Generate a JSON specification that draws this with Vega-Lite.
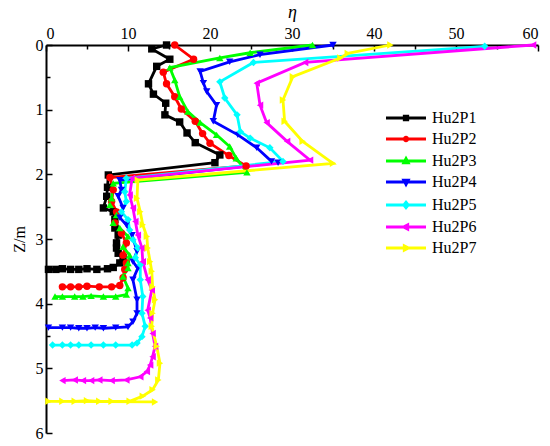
{
  "$schema": "https://vega.github.io/schema/vega-lite/v6.json",
  "autosize": {"type": "none"},
  "width": 492,
  "height": 388,
  "padding": {"left": 46, "top": 45, "right": 12, "bottom": 13},
  "background": "white",
  "config": {"view": {"stroke": null}, "font": "Liberation Serif"},
  "data": {
    "values": [
      {"s": "Hu2P1", "i": 0, "eta": 14.7, "z": 0.0},
      {"s": "Hu2P1", "i": 1, "eta": 12.9, "z": 0.06},
      {"s": "Hu2P1", "i": 2, "eta": 15.1, "z": 0.22},
      {"s": "Hu2P1", "i": 3, "eta": 13.5, "z": 0.33},
      {"s": "Hu2P1", "i": 4, "eta": 12.5, "z": 0.6},
      {"s": "Hu2P1", "i": 5, "eta": 13.1, "z": 0.76},
      {"s": "Hu2P1", "i": 6, "eta": 14.6, "z": 0.9},
      {"s": "Hu2P1", "i": 7, "eta": 14.5, "z": 1.08},
      {"s": "Hu2P1", "i": 8, "eta": 16.3, "z": 1.19},
      {"s": "Hu2P1", "i": 9, "eta": 17.2, "z": 1.36},
      {"s": "Hu2P1", "i": 10, "eta": 18.2, "z": 1.51},
      {"s": "Hu2P1", "i": 11, "eta": 21.2, "z": 1.7},
      {"s": "Hu2P1", "i": 12, "eta": 20.6, "z": 1.82},
      {"s": "Hu2P1", "i": 13, "eta": 7.6, "z": 2.01},
      {"s": "Hu2P1", "i": 14, "eta": 7.5, "z": 2.2},
      {"s": "Hu2P1", "i": 15, "eta": 7.4, "z": 2.34},
      {"s": "Hu2P1", "i": 16, "eta": 7.0, "z": 2.52},
      {"s": "Hu2P1", "i": 17, "eta": 8.2, "z": 2.58},
      {"s": "Hu2P1", "i": 18, "eta": 8.4, "z": 2.7},
      {"s": "Hu2P1", "i": 19, "eta": 8.4, "z": 2.83},
      {"s": "Hu2P1", "i": 20, "eta": 8.8, "z": 2.94},
      {"s": "Hu2P1", "i": 21, "eta": 8.6, "z": 3.06},
      {"s": "Hu2P1", "i": 22, "eta": 8.6, "z": 3.14},
      {"s": "Hu2P1", "i": 23, "eta": 8.8, "z": 3.22},
      {"s": "Hu2P1", "i": 24, "eta": 9.4, "z": 3.29},
      {"s": "Hu2P1", "i": 25, "eta": 9.0, "z": 3.37},
      {"s": "Hu2P1", "i": 26, "eta": 8.2, "z": 3.44},
      {"s": "Hu2P1", "i": 27, "eta": 7.5, "z": 3.46},
      {"s": "Hu2P1", "i": 28, "eta": 6.2, "z": 3.47},
      {"s": "Hu2P1", "i": 29, "eta": 5.0, "z": 3.46},
      {"s": "Hu2P1", "i": 30, "eta": 4.0, "z": 3.47},
      {"s": "Hu2P1", "i": 31, "eta": 3.0, "z": 3.47},
      {"s": "Hu2P1", "i": 32, "eta": 2.0, "z": 3.46},
      {"s": "Hu2P1", "i": 33, "eta": 1.2, "z": 3.47},
      {"s": "Hu2P1", "i": 34, "eta": 0.3, "z": 3.47},

      {"s": "Hu2P2", "i": 0, "eta": 15.7, "z": 0.0},
      {"s": "Hu2P2", "i": 1, "eta": 18.0, "z": 0.22},
      {"s": "Hu2P2", "i": 2, "eta": 14.3, "z": 0.42},
      {"s": "Hu2P2", "i": 3, "eta": 14.7, "z": 0.6},
      {"s": "Hu2P2", "i": 4, "eta": 15.7, "z": 0.8},
      {"s": "Hu2P2", "i": 5, "eta": 16.5, "z": 0.99},
      {"s": "Hu2P2", "i": 6, "eta": 18.2, "z": 1.18},
      {"s": "Hu2P2", "i": 7, "eta": 19.1, "z": 1.37},
      {"s": "Hu2P2", "i": 8, "eta": 20.0, "z": 1.52},
      {"s": "Hu2P2", "i": 9, "eta": 22.3, "z": 1.71},
      {"s": "Hu2P2", "i": 10, "eta": 24.4, "z": 1.87},
      {"s": "Hu2P2", "i": 11, "eta": 7.8, "z": 2.05},
      {"s": "Hu2P2", "i": 12, "eta": 8.2, "z": 2.24},
      {"s": "Hu2P2", "i": 13, "eta": 8.0, "z": 2.42},
      {"s": "Hu2P2", "i": 14, "eta": 8.6, "z": 2.58},
      {"s": "Hu2P2", "i": 15, "eta": 8.4, "z": 2.75},
      {"s": "Hu2P2", "i": 16, "eta": 9.2, "z": 2.91},
      {"s": "Hu2P2", "i": 17, "eta": 9.8, "z": 3.06},
      {"s": "Hu2P2", "i": 18, "eta": 9.4, "z": 3.25},
      {"s": "Hu2P2", "i": 19, "eta": 9.8, "z": 3.37},
      {"s": "Hu2P2", "i": 20, "eta": 9.6, "z": 3.47},
      {"s": "Hu2P2", "i": 21, "eta": 9.4, "z": 3.6},
      {"s": "Hu2P2", "i": 22, "eta": 9.0, "z": 3.72},
      {"s": "Hu2P2", "i": 23, "eta": 8.0, "z": 3.74},
      {"s": "Hu2P2", "i": 24, "eta": 6.5, "z": 3.74},
      {"s": "Hu2P2", "i": 25, "eta": 5.0, "z": 3.73},
      {"s": "Hu2P2", "i": 26, "eta": 4.0, "z": 3.74},
      {"s": "Hu2P2", "i": 27, "eta": 3.0, "z": 3.74},
      {"s": "Hu2P2", "i": 28, "eta": 2.0, "z": 3.74},

      {"s": "Hu2P3", "i": 0, "eta": 32.5, "z": 0.0},
      {"s": "Hu2P3", "i": 1, "eta": 24.9, "z": 0.12},
      {"s": "Hu2P3", "i": 2, "eta": 21.2, "z": 0.2},
      {"s": "Hu2P3", "i": 3, "eta": 15.1, "z": 0.35},
      {"s": "Hu2P3", "i": 4, "eta": 15.7, "z": 0.54},
      {"s": "Hu2P3", "i": 5, "eta": 16.3, "z": 0.8},
      {"s": "Hu2P3", "i": 6, "eta": 17.3, "z": 1.03},
      {"s": "Hu2P3", "i": 7, "eta": 18.8, "z": 1.2},
      {"s": "Hu2P3", "i": 8, "eta": 20.8, "z": 1.39},
      {"s": "Hu2P3", "i": 9, "eta": 22.4, "z": 1.57},
      {"s": "Hu2P3", "i": 10, "eta": 23.2, "z": 1.75},
      {"s": "Hu2P3", "i": 11, "eta": 24.5, "z": 1.97},
      {"s": "Hu2P3", "i": 12, "eta": 8.2, "z": 2.14},
      {"s": "Hu2P3", "i": 13, "eta": 8.0, "z": 2.37},
      {"s": "Hu2P3", "i": 14, "eta": 7.8, "z": 2.47},
      {"s": "Hu2P3", "i": 15, "eta": 8.6, "z": 2.63},
      {"s": "Hu2P3", "i": 16, "eta": 8.2, "z": 2.75},
      {"s": "Hu2P3", "i": 17, "eta": 9.0, "z": 2.83},
      {"s": "Hu2P3", "i": 18, "eta": 10.0, "z": 2.96},
      {"s": "Hu2P3", "i": 19, "eta": 9.4, "z": 3.12},
      {"s": "Hu2P3", "i": 20, "eta": 10.2, "z": 3.25},
      {"s": "Hu2P3", "i": 21, "eta": 10.0, "z": 3.37},
      {"s": "Hu2P3", "i": 22, "eta": 10.0, "z": 3.45},
      {"s": "Hu2P3", "i": 23, "eta": 9.4, "z": 3.58},
      {"s": "Hu2P3", "i": 24, "eta": 10.0, "z": 3.76},
      {"s": "Hu2P3", "i": 25, "eta": 9.8, "z": 3.86},
      {"s": "Hu2P3", "i": 26, "eta": 8.5, "z": 3.89},
      {"s": "Hu2P3", "i": 27, "eta": 7.0, "z": 3.89},
      {"s": "Hu2P3", "i": 28, "eta": 5.5, "z": 3.88},
      {"s": "Hu2P3", "i": 29, "eta": 4.5, "z": 3.89},
      {"s": "Hu2P3", "i": 30, "eta": 3.5, "z": 3.89},
      {"s": "Hu2P3", "i": 31, "eta": 2.0, "z": 3.89},
      {"s": "Hu2P3", "i": 32, "eta": 1.1, "z": 3.89},

      {"s": "Hu2P4", "i": 0, "eta": 35.0, "z": 0.0},
      {"s": "Hu2P4", "i": 1, "eta": 26.1, "z": 0.15},
      {"s": "Hu2P4", "i": 2, "eta": 22.4, "z": 0.26},
      {"s": "Hu2P4", "i": 3, "eta": 18.8, "z": 0.41},
      {"s": "Hu2P4", "i": 4, "eta": 19.2, "z": 0.59},
      {"s": "Hu2P4", "i": 5, "eta": 19.6, "z": 0.72},
      {"s": "Hu2P4", "i": 6, "eta": 20.8, "z": 0.93},
      {"s": "Hu2P4", "i": 7, "eta": 20.4, "z": 1.18},
      {"s": "Hu2P4", "i": 8, "eta": 23.4, "z": 1.39},
      {"s": "Hu2P4", "i": 9, "eta": 25.7, "z": 1.59},
      {"s": "Hu2P4", "i": 10, "eta": 27.5, "z": 1.8},
      {"s": "Hu2P4", "i": 11, "eta": 28.3, "z": 1.82},
      {"s": "Hu2P4", "i": 12, "eta": 9.0, "z": 2.09},
      {"s": "Hu2P4", "i": 13, "eta": 9.2, "z": 2.24},
      {"s": "Hu2P4", "i": 14, "eta": 8.8, "z": 2.34},
      {"s": "Hu2P4", "i": 15, "eta": 9.4, "z": 2.52},
      {"s": "Hu2P4", "i": 16, "eta": 9.0, "z": 2.67},
      {"s": "Hu2P4", "i": 17, "eta": 9.8, "z": 2.78},
      {"s": "Hu2P4", "i": 18, "eta": 10.5, "z": 2.94},
      {"s": "Hu2P4", "i": 19, "eta": 11.1, "z": 3.19},
      {"s": "Hu2P4", "i": 20, "eta": 10.6, "z": 3.35},
      {"s": "Hu2P4", "i": 21, "eta": 11.2, "z": 3.45},
      {"s": "Hu2P4", "i": 22, "eta": 10.6, "z": 3.63},
      {"s": "Hu2P4", "i": 23, "eta": 11.1, "z": 3.94},
      {"s": "Hu2P4", "i": 24, "eta": 11.1, "z": 4.15},
      {"s": "Hu2P4", "i": 25, "eta": 10.6, "z": 4.28},
      {"s": "Hu2P4", "i": 26, "eta": 10.0, "z": 4.36},
      {"s": "Hu2P4", "i": 27, "eta": 8.5, "z": 4.37},
      {"s": "Hu2P4", "i": 28, "eta": 7.0, "z": 4.38},
      {"s": "Hu2P4", "i": 29, "eta": 6.0, "z": 4.37},
      {"s": "Hu2P4", "i": 30, "eta": 5.0, "z": 4.38},
      {"s": "Hu2P4", "i": 31, "eta": 4.0, "z": 4.38},
      {"s": "Hu2P4", "i": 32, "eta": 3.0, "z": 4.37},
      {"s": "Hu2P4", "i": 33, "eta": 2.0, "z": 4.37},
      {"s": "Hu2P4", "i": 34, "eta": 0.3, "z": 4.37},

      {"s": "Hu2P5", "i": 0, "eta": 53.5, "z": 0.02},
      {"s": "Hu2P5", "i": 1, "eta": 25.3, "z": 0.27},
      {"s": "Hu2P5", "i": 2, "eta": 21.2, "z": 0.57},
      {"s": "Hu2P5", "i": 3, "eta": 21.8, "z": 0.82},
      {"s": "Hu2P5", "i": 4, "eta": 23.3, "z": 1.08},
      {"s": "Hu2P5", "i": 5, "eta": 23.7, "z": 1.34},
      {"s": "Hu2P5", "i": 6, "eta": 24.9, "z": 1.44},
      {"s": "Hu2P5", "i": 7, "eta": 27.3, "z": 1.59},
      {"s": "Hu2P5", "i": 8, "eta": 28.9, "z": 1.8},
      {"s": "Hu2P5", "i": 9, "eta": 9.8, "z": 2.06},
      {"s": "Hu2P5", "i": 10, "eta": 9.6, "z": 2.27},
      {"s": "Hu2P5", "i": 11, "eta": 9.8, "z": 2.42},
      {"s": "Hu2P5", "i": 12, "eta": 9.2, "z": 2.58},
      {"s": "Hu2P5", "i": 13, "eta": 10.0, "z": 2.7},
      {"s": "Hu2P5", "i": 14, "eta": 10.2, "z": 2.86},
      {"s": "Hu2P5", "i": 15, "eta": 10.6, "z": 3.01},
      {"s": "Hu2P5", "i": 16, "eta": 11.2, "z": 3.14},
      {"s": "Hu2P5", "i": 17, "eta": 10.9, "z": 3.29},
      {"s": "Hu2P5", "i": 18, "eta": 11.5, "z": 3.4},
      {"s": "Hu2P5", "i": 19, "eta": 11.5, "z": 3.63},
      {"s": "Hu2P5", "i": 20, "eta": 11.8, "z": 3.89},
      {"s": "Hu2P5", "i": 21, "eta": 11.7, "z": 4.15},
      {"s": "Hu2P5", "i": 22, "eta": 12.1, "z": 4.35},
      {"s": "Hu2P5", "i": 23, "eta": 11.7, "z": 4.51},
      {"s": "Hu2P5", "i": 24, "eta": 11.1, "z": 4.61},
      {"s": "Hu2P5", "i": 25, "eta": 10.5, "z": 4.64},
      {"s": "Hu2P5", "i": 26, "eta": 8.5, "z": 4.64},
      {"s": "Hu2P5", "i": 27, "eta": 7.0, "z": 4.64},
      {"s": "Hu2P5", "i": 28, "eta": 5.5, "z": 4.64},
      {"s": "Hu2P5", "i": 29, "eta": 4.0, "z": 4.64},
      {"s": "Hu2P5", "i": 30, "eta": 3.0, "z": 4.64},
      {"s": "Hu2P5", "i": 31, "eta": 2.0, "z": 4.64},
      {"s": "Hu2P5", "i": 32, "eta": 0.8, "z": 4.64},

      {"s": "Hu2P6", "i": 0, "eta": 59.4, "z": 0.0},
      {"s": "Hu2P6", "i": 1, "eta": 31.6, "z": 0.27},
      {"s": "Hu2P6", "i": 2, "eta": 25.7, "z": 0.59},
      {"s": "Hu2P6", "i": 3, "eta": 26.1, "z": 0.93},
      {"s": "Hu2P6", "i": 4, "eta": 26.9, "z": 1.2},
      {"s": "Hu2P6", "i": 5, "eta": 29.4, "z": 1.49},
      {"s": "Hu2P6", "i": 6, "eta": 32.2, "z": 1.78},
      {"s": "Hu2P6", "i": 7, "eta": 10.5, "z": 2.06},
      {"s": "Hu2P6", "i": 8, "eta": 10.2, "z": 2.32},
      {"s": "Hu2P6", "i": 9, "eta": 10.6, "z": 2.52},
      {"s": "Hu2P6", "i": 10, "eta": 10.9, "z": 2.73},
      {"s": "Hu2P6", "i": 11, "eta": 11.2, "z": 2.94},
      {"s": "Hu2P6", "i": 12, "eta": 11.7, "z": 3.14},
      {"s": "Hu2P6", "i": 13, "eta": 11.8, "z": 3.35},
      {"s": "Hu2P6", "i": 14, "eta": 12.4, "z": 3.63},
      {"s": "Hu2P6", "i": 15, "eta": 12.9, "z": 3.79},
      {"s": "Hu2P6", "i": 16, "eta": 12.4, "z": 4.1},
      {"s": "Hu2P6", "i": 17, "eta": 12.7, "z": 4.22},
      {"s": "Hu2P6", "i": 18, "eta": 13.0, "z": 4.46},
      {"s": "Hu2P6", "i": 19, "eta": 13.3, "z": 4.66},
      {"s": "Hu2P6", "i": 20, "eta": 13.0, "z": 4.82},
      {"s": "Hu2P6", "i": 21, "eta": 12.7, "z": 4.95},
      {"s": "Hu2P6", "i": 22, "eta": 12.3, "z": 5.05},
      {"s": "Hu2P6", "i": 23, "eta": 11.5, "z": 5.13},
      {"s": "Hu2P6", "i": 24, "eta": 9.8, "z": 5.18},
      {"s": "Hu2P6", "i": 25, "eta": 8.0, "z": 5.19},
      {"s": "Hu2P6", "i": 26, "eta": 6.5, "z": 5.18},
      {"s": "Hu2P6", "i": 27, "eta": 5.5, "z": 5.19},
      {"s": "Hu2P6", "i": 28, "eta": 4.5, "z": 5.19},
      {"s": "Hu2P6", "i": 29, "eta": 3.5, "z": 5.18},
      {"s": "Hu2P6", "i": 30, "eta": 2.0, "z": 5.19},

      {"s": "Hu2P7", "i": 0, "eta": 42.0, "z": 0.0},
      {"s": "Hu2P7", "i": 1, "eta": 36.8, "z": 0.13},
      {"s": "Hu2P7", "i": 2, "eta": 35.9, "z": 0.2},
      {"s": "Hu2P7", "i": 3, "eta": 30.1, "z": 0.49},
      {"s": "Hu2P7", "i": 4, "eta": 28.9, "z": 0.85},
      {"s": "Hu2P7", "i": 5, "eta": 29.1, "z": 1.18},
      {"s": "Hu2P7", "i": 6, "eta": 31.3, "z": 1.49},
      {"s": "Hu2P7", "i": 7, "eta": 35.0, "z": 1.83},
      {"s": "Hu2P7", "i": 8, "eta": 11.2, "z": 2.09},
      {"s": "Hu2P7", "i": 9, "eta": 11.1, "z": 2.37},
      {"s": "Hu2P7", "i": 10, "eta": 11.5, "z": 2.58},
      {"s": "Hu2P7", "i": 11, "eta": 11.8, "z": 2.78},
      {"s": "Hu2P7", "i": 12, "eta": 12.3, "z": 2.96},
      {"s": "Hu2P7", "i": 13, "eta": 12.4, "z": 3.14},
      {"s": "Hu2P7", "i": 14, "eta": 12.7, "z": 3.35},
      {"s": "Hu2P7", "i": 15, "eta": 12.9, "z": 3.5},
      {"s": "Hu2P7", "i": 16, "eta": 13.0, "z": 3.74},
      {"s": "Hu2P7", "i": 17, "eta": 13.3, "z": 3.94},
      {"s": "Hu2P7", "i": 18, "eta": 13.0, "z": 4.15},
      {"s": "Hu2P7", "i": 19, "eta": 12.9, "z": 4.35},
      {"s": "Hu2P7", "i": 20, "eta": 13.5, "z": 4.66},
      {"s": "Hu2P7", "i": 21, "eta": 13.9, "z": 4.92},
      {"s": "Hu2P7", "i": 22, "eta": 13.7, "z": 5.18},
      {"s": "Hu2P7", "i": 23, "eta": 13.0, "z": 5.33},
      {"s": "Hu2P7", "i": 24, "eta": 11.8, "z": 5.43},
      {"s": "Hu2P7", "i": 25, "eta": 10.2, "z": 5.51},
      {"s": "Hu2P7", "i": 26, "eta": 8.0, "z": 5.51},
      {"s": "Hu2P7", "i": 27, "eta": 6.5, "z": 5.51},
      {"s": "Hu2P7", "i": 28, "eta": 5.0, "z": 5.5},
      {"s": "Hu2P7", "i": 29, "eta": 3.5, "z": 5.51},
      {"s": "Hu2P7", "i": 30, "eta": 2.0, "z": 5.51},
      {"s": "Hu2P7", "i": 31, "eta": 0.3, "z": 5.51},
      {"s": "Hu2P7", "i": 32, "eta": 13.3, "z": 5.52}
    ]
  },
  "layer": [
    {
      "mark": {"type": "line", "strokeWidth": 2.8},
      "encoding": {
        "x": {
          "field": "eta", "type": "quantitative",
          "scale": {"domain": [0, 60], "nice": false},
          "axis": {
            "orient": "top", "values": [0, 10, 20, 30, 40, 50, 60],
            "grid": false, "tickSize": -6, "tickWidth": 1.5, "tickColor": "black",
            "domainColor": "black", "domainWidth": 2,
            "labelFont": "Liberation Serif", "labelFontSize": 16, "labelColor": "black", "labelPadding": 10,
            "title": "η", "titleFont": "Liberation Serif", "titleFontSize": 18,
            "titleFontStyle": "italic", "titleFontWeight": "normal", "titleColor": "black", "titlePadding": 4
          }
        },
        "y": {
          "field": "z", "type": "quantitative",
          "scale": {"domain": [0, 6], "nice": false, "reverse": true},
          "axis": {
            "orient": "left", "values": [0, 1, 2, 3, 4, 5, 6],
            "grid": false, "tickSize": -6, "tickWidth": 1.5, "tickColor": "black",
            "domainColor": "black", "domainWidth": 2,
            "labelFont": "Liberation Serif", "labelFontSize": 16, "labelColor": "black", "labelPadding": 9,
            "title": "Z/m", "titleFont": "Liberation Serif", "titleFontSize": 16,
            "titleFontWeight": "normal", "titleColor": "black", "titlePadding": 8
          }
        },
        "color": {
          "field": "s", "type": "nominal",
          "scale": {
            "domain": ["Hu2P1", "Hu2P2", "Hu2P3", "Hu2P4", "Hu2P5", "Hu2P6", "Hu2P7"],
            "range": ["#000000", "#ff0000", "#00ff00", "#0000ff", "#00ffff", "#ff00ff", "#ffff00"]
          },
          "legend": null
        },
        "order": {"field": "i", "type": "quantitative"}
      }
    },
    {
      "mark": {"type": "point", "filled": true, "size": 55, "opacity": 1},
      "encoding": {
        "x": {
          "field": "eta", "type": "quantitative",
          "axis": {
            "orient": "top", "values": [5, 15, 25, 35, 45, 55], "labels": false, "domain": false,
            "grid": false, "tickSize": -4, "tickWidth": 1.5, "tickColor": "black", "title": null
          }
        },
        "y": {
          "field": "z", "type": "quantitative",
          "axis": {
            "orient": "left", "values": [0.5, 1.5, 2.5, 3.5, 4.5, 5.5], "labels": false, "domain": false,
            "grid": false, "tickSize": -4, "tickWidth": 1.5, "tickColor": "black", "title": null
          }
        },
        "color": {"field": "s", "type": "nominal", "legend": null},
        "shape": {
          "field": "s", "type": "nominal",
          "scale": {
            "domain": ["Hu2P1", "Hu2P2", "Hu2P3", "Hu2P4", "Hu2P5", "Hu2P6", "Hu2P7"],
            "range": ["square", "circle", "triangle-up", "triangle-down", "diamond", "triangle-left", "triangle-right"]
          },
          "legend": null
        }
      }
    },
    {
      "transform": [{"filter": "false"}],
      "mark": {"type": "point", "size": 100, "opacity": 1, "strokeWidth": 2.5},
      "encoding": {
        "fill": {
          "field": "s", "type": "nominal",
          "scale": {
            "domain": ["Hu2P1", "Hu2P2", "Hu2P3", "Hu2P4", "Hu2P5", "Hu2P6", "Hu2P7"],
            "range": ["#000000", "#ff0000", "#00ff00", "#0000ff", "#00ffff", "#ff00ff", "#ffff00"]
          },
          "legend": {
            "title": null, "orient": "none", "legendX": 352, "legendY": 65,
            "symbolSize": 100, "symbolStrokeWidth": 2.8, "symbolOpacity": 1,
            "labelFont": "Liberation Serif", "labelFontSize": 16, "labelColor": "black",
            "labelOffset": 18, "rowPadding": 5
          }
        },
        "stroke": {
          "field": "s", "type": "nominal",
          "scale": {
            "domain": ["Hu2P1", "Hu2P2", "Hu2P3", "Hu2P4", "Hu2P5", "Hu2P6", "Hu2P7"],
            "range": ["#000000", "#ff0000", "#00ff00", "#0000ff", "#00ffff", "#ff00ff", "#ffff00"]
          },
          "legend": {
            "title": null, "orient": "none", "legendX": 352, "legendY": 65,
            "symbolSize": 100, "symbolStrokeWidth": 2.8, "symbolOpacity": 1,
            "labelFont": "Liberation Serif", "labelFontSize": 16, "labelColor": "black",
            "labelOffset": 18, "rowPadding": 5
          }
        },
        "shape": {
          "field": "s", "type": "nominal",
          "scale": {
            "domain": ["Hu2P1", "Hu2P2", "Hu2P3", "Hu2P4", "Hu2P5", "Hu2P6", "Hu2P7"],
            "range": [
              "M-4,0H4M-0.35,-0.35H0.35V0.35H-0.35Z",
              "M-4,0H4M0.35,0A0.35,0.35,0,1,1,-0.35,0A0.35,0.35,0,1,1,0.35,0Z",
              "M-4,0H4M0,-0.5L0.45,0.35H-0.45Z",
              "M-4,0H4M0,0.5L0.45,-0.35H-0.45Z",
              "M-4,0H4M0,-0.55L0.45,0L0,0.55L-0.45,0Z",
              "M-4,0H4M-0.5,0L0.35,-0.45V0.45Z",
              "M-4,0H4M0.5,0L-0.35,-0.45V0.45Z"
            ]
          },
          "legend": {
            "title": null, "orient": "none", "legendX": 352, "legendY": 65,
            "symbolSize": 100, "symbolStrokeWidth": 2.8, "symbolOpacity": 1,
            "labelFont": "Liberation Serif", "labelFontSize": 16, "labelColor": "black",
            "labelOffset": 18, "rowPadding": 5
          }
        }
      }
    }
  ],
  "resolve": {
    "scale": {"shape": "independent", "fill": "independent", "stroke": "independent"},
    "axis": {"x": "independent", "y": "independent"}
  }
}
